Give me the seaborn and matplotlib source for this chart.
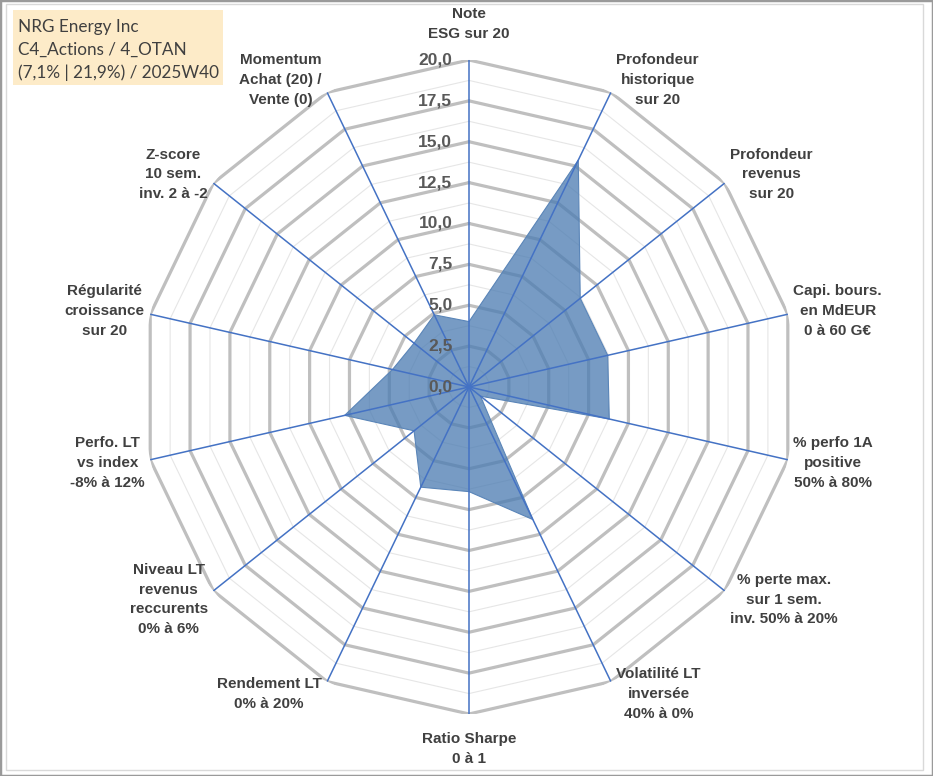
import numpy as np
import pandas as pd
import matplotlib
matplotlib.use('Agg')
import matplotlib.pyplot as plt
import seaborn as sns
from matplotlib.patches import Rectangle

# style
sns.set_style('white')
plt.rcParams['font.family'] = ['Liberation Sans', 'DejaVu Sans']

# data
categories = [
    "Note\nESG sur 20",
    "Profondeur\nhistorique\nsur 20",
    "Profondeur\nrevenus\nsur 20",
    "Capi. bours.\nen MdEUR\n0 à 60 G€",
    "% perfo 1A\npositive\n50% à 80%",
    "% perte max.\nsur 1 sem.\ninv. 50% à 20%",
    "Volatilité LT\ninversée\n40% à 0%",
    "Ratio Sharpe\n0 à 1",
    "Rendement LT\n0% à 20%",
    "Niveau LT\nrevenus\nreccurents\n0% à 6%",
    "Perfo. LT\nvs index\n-8% à 12%",
    "Régularité\ncroissance\nsur 20",
    "Z-score\n10 sem.\ninv. 2 à -2",
    "Momentum\nAchat (20) /\nVente (0)",
]
scores = [4.0, 15.4, 8.7, 8.7, 8.8, 0.9, 9.0, 6.4, 6.8, 4.3, 7.8, 4.8, 4.3, 4.9]
ticks = [0.0, 2.5, 5.0, 7.5, 10.0, 12.5, 15.0, 17.5, 20.0]
title_lines = ["NRG Energy Inc", "C4_Actions / 4_OTAN", "(7,1% | 21,9%) / 2025W40"]

n = len(categories)
theta = np.linspace(0, 2 * np.pi, n, endpoint=False)
closed = np.append(theta, theta[0])
df = pd.DataFrame({'angle': closed, 'score': scores + scores[:1]})

fig = plt.figure(figsize=(9.33, 7.76), dpi=100)
ax = fig.add_axes([0.1522, 0.0799, 0.7010, 0.8428], projection='polar')
ax.set_theta_zero_location('N')
ax.set_theta_direction(-1)

# polygon grid: minor rings between the major ones
minor = [(a + b) / 2 for a, b in zip(ticks[:-1], ticks[1:])]
for r in minor:
    ax.plot(closed, [r] * (n + 1), color='#E6E6E6', lw=0.8, zorder=1)
for r in ticks[1:]:
    ax.plot(closed, [r] * (n + 1), color='#BFBFBF', lw=2.3, zorder=2)

# filled area + outline
ax.fill(df['angle'], df['score'], color='#4C7CB2', alpha=0.76, lw=0, zorder=3)
sns.lineplot(data=df, x='angle', y='score', sort=False, estimator=None,
             color='#5A85B8', lw=0.8, ax=ax, zorder=3.5)

# spokes
for a in theta:
    ax.plot([a, a], [0, ticks[-1]], color='#4472C4', lw=1.1, zorder=4)

ax.set_ylim(0, ticks[-1])
ax.set_xticks([])
ax.set_yticks([])
ax.set_xlabel('')
ax.set_ylabel('')
ax.grid(False)
ax.spines['polar'].set_visible(False)

# radial values along top spoke
for t in ticks:
    ax.annotate(f"{t:.1f}".replace('.', ','), xy=(0, t), xytext=(-12, 0),
                textcoords='offset points', ha='right', va='center',
                fontsize=12.5, fontweight='bold', color='#595959', zorder=5)

# category labels
for a, lab in zip(theta, categories):
    s, c = np.sin(a), np.cos(a)
    if abs(s) < 0.05:
        ha = 'center'
        va = 'bottom' if c > 0 else 'top'
        off = (0, 14 if c > 0 else -13)
    else:
        ha = 'left' if s > 0 else 'right'
        va = 'center'
        off = (4 * np.sign(s), 10 * c)
    ax.annotate(lab, xy=(a, ticks[-1]), xytext=off, textcoords='offset points',
                ha=ha, va=va, ma='center', fontsize=11, fontweight='bold',
                color='#404040', linespacing=1.52, annotation_clip=False)

# title box
fig.patches.append(Rectangle((13 / 933, 1 - 85 / 776), 210 / 933, 75 / 776,
                             transform=fig.transFigure, facecolor='#FDEBC8',
                             edgecolor='none', zorder=0))
fig.text(18 / 933, 1 - 19 / 776, "\n".join(title_lines), family='Lato',
         fontsize=12.3, color='#404040', ha='left', va='top', linespacing=1.52)

# frames
fig.patches.append(Rectangle((0, 0), 1, 1, transform=fig.transFigure,
                             fill=False, edgecolor='#9A9A9A', lw=2.5))
fig.patches.append(Rectangle((6 / 933, 1 - 770 / 776), 917 / 933, 766 / 776,
                             transform=fig.transFigure, fill=False,
                             edgecolor='#D9D9D9', lw=1))

fig.savefig('out.png', dpi=100)
